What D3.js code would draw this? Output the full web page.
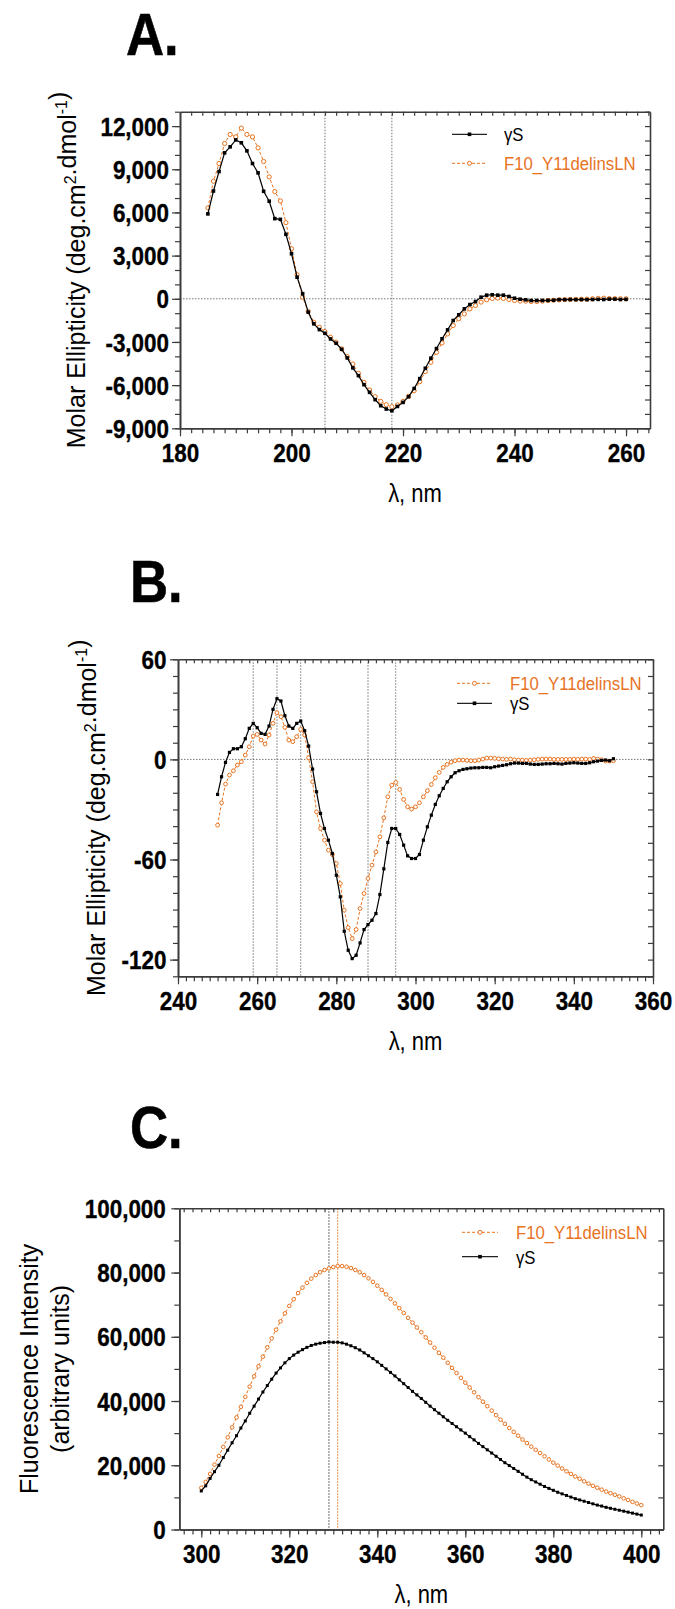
<!DOCTYPE html>
<html><head><meta charset="utf-8">
<script src="https://cdn.jsdelivr.net/npm/d3@7"></script>
<style>
body{margin:0;background:#fff}
svg{display:block}
text{font-family:"Liberation Sans",Arial,Helvetica,sans-serif}
</style>
</head><body>
<script>
// ---------------- DATA ----------------
// Panel A: far-UV CD
const wlA = [185,186,187,188,189,190,191,192,193,194,195,196,197,198,199,200,201,202,203,204,205,206,207,208,209,210,211,212,213,214,215,216,217,218,219,220,221,222,223,224,225,226,227,228,229,230,231,232,233,234,235,236,237,238,239,240,241,242,243,244,245,246,247,248,249,250,251,252,253,254,255,256,257,258,259,260];
const gammaS_A = [5900,7490,8840,10140,10560,11040,10840,10280,9400,8750,7470,6780,5570,5520,4480,3130,1500,350,-930,-1740,-2140,-2400,-2790,-3090,-3510,-4110,-4800,-5340,-5970,-6500,-7010,-7430,-7660,-7780,-7480,-7200,-6800,-6230,-5550,-4830,-4130,-3460,-2780,-2160,-1510,-1110,-700,-400,-190,110,250,280,250,250,160,40,-30,-70,-120,-120,-120,-110,-100,-60,-60,-50,-60,-50,-60,-50,-40,-50,-20,-20,-50,-40];
const mutant_A = [6310,8170,9400,10790,11420,11250,11860,11420,11250,10490,9540,8470,7450,6800,5290,3480,1670,110,-880,-1630,-1980,-2280,-2670,-3020,-3480,-4020,-4530,-5180,-5810,-6340,-6800,-7130,-7360,-7500,-7380,-7130,-6780,-6390,-5760,-5060,-4410,-3720,-3070,-2440,-1860,-1390,-1050,-700,-470,-230,-70,20,50,20,-50,-120,-160,-160,-190,-190,-160,-120,-100,-80,-60,-50,-40,-30,-20,0,30,40,20,10,0,0];
const xTicksA = [180,200,220,240,260];
const yTicksA = [-9000,-6000,-3000,0,3000,6000,9000,12000];
const refLinesA = [206,218];

// Panel B: near-UV CD
const wlB = [250,251,252,253,254,255,256,257,258,259,260,261,262,263,264,265,266,267,268,269,270,271,272,273,274,275,276,277,278,279,280,281,282,283,284,285,286,287,288,289,290,291,292,293,294,295,296,297,298,299,300,301,302,303,304,305,306,307,308,309,310,311,312,313,314,315,316,317,318,319,320,321,322,323,324,325,326,327,328,329,330,331,332,333,334,335,336,337,338,339,340,341,342,343,344,345,346,347,348,349,350];
const gammaS_B = [-21.0,-10.4,-1.8,4.2,6.4,6.4,7.6,12.4,18.6,21.6,19.0,15.6,15.0,20.0,30.0,36.4,35.0,26.2,20.0,18.6,21.6,23.0,17.2,8.0,-5.8,-19.4,-32.4,-41.4,-48.4,-56.4,-69.4,-82.4,-103.0,-114.4,-119.4,-117.4,-110.0,-102.0,-99.0,-96.4,-92.4,-81.0,-65.6,-49.8,-41.4,-41.4,-45.0,-51.4,-57.8,-59.4,-59.4,-57.0,-48.4,-40.4,-33.4,-27.0,-21.8,-17.4,-13.4,-10.4,-8.0,-6.8,-6.0,-5.6,-5.2,-5.0,-5.0,-4.8,-4.8,-5.0,-4.4,-4.0,-3.6,-3.2,-2.6,-2.2,-2.2,-2.4,-2.4,-2.8,-3.0,-3.0,-2.8,-2.6,-2.6,-2.4,-2.6,-2.8,-2.4,-2.2,-2.0,-2.2,-2.4,-2.4,-2.0,-1.4,-1.0,-0.6,-0.4,-0.8,0.4];
const mutant_B = [-39.4,-26.0,-14.8,-9.4,-6.8,-3.4,-1.4,2.6,7.6,14.0,15.0,11.6,9.2,14.6,21.6,28.0,25.6,19.2,11.6,10.6,13.6,18.0,14.6,1.0,-13.4,-31.4,-41.4,-48.4,-54.4,-57.0,-62.4,-74.4,-90.4,-100.8,-107.4,-102.0,-89.4,-80.4,-71.4,-63.4,-55.4,-46.4,-35.0,-22.4,-15.4,-13.8,-18.0,-24.0,-28.4,-29.8,-28.4,-26.0,-22.4,-18.8,-15.0,-11.0,-7.8,-4.8,-3.0,-1.6,-0.8,-0.4,-0.4,-0.6,-0.8,-0.8,-0.4,0.2,0.8,0.8,0.6,0.4,0.2,0.0,0.2,-0.2,-0.4,-0.4,-0.6,-0.4,-0.2,0.0,0.2,0.2,0.2,0.0,0.0,0.0,0.0,0.0,0.2,0.0,0.2,0.2,0.0,0.6,0.2,-0.2,-1.0,-1.0,-0.8];
const xTicksB = [240,260,280,300,320,340,360];
const yTicksB = [-120,-60,0,60];
const refLinesB = [259,265,271,288,295];

// Panel C: fluorescence emission
const wlC = [300,301,302,303,304,305,306,307,308,309,310,311,312,313,314,315,316,317,318,319,320,321,322,323,324,325,326,327,328,329,330,331,332,333,334,335,336,337,338,339,340,341,342,343,344,345,346,347,348,349,350,351,352,353,354,355,356,357,358,359,360,361,362,363,364,365,366,367,368,369,370,371,372,373,374,375,376,377,378,379,380,381,382,383,384,385,386,387,388,389,390,391,392,393,394,395,396,397,398,399,400];
const gammaS_C = [12000,13600,15900,18000,20000,22400,24700,27000,29200,31600,33800,36200,38400,40600,42800,44800,46800,48700,50300,51900,53200,54300,55200,56000,56700,57300,57700,58000,58200,58400,58300,58300,58100,57700,57200,56600,55900,55000,54100,53200,52200,51100,50000,48900,47800,46600,45400,44200,43000,41900,40800,39600,38400,37300,36200,35100,34000,33000,32000,31000,30000,28900,27900,26800,25800,24800,23800,22800,21800,20800,19900,19000,18100,17200,16300,15500,14800,14100,13400,12800,12200,11600,11100,10600,10100,9600,9200,8800,8400,8000,7600,7300,6900,6600,6300,6000,5700,5400,5100,4800,4500];
const mutant_C = [13000,14800,17300,20200,22900,25700,28700,31800,34900,38200,41300,44500,47700,50800,53800,56700,59500,62200,64800,67300,69600,71700,73600,75300,76800,78100,79200,80100,80800,81300,81700,82000,82000,81800,81400,80800,80100,79200,78200,77100,75900,74600,73200,71800,70400,68900,67400,65900,64400,62900,61400,59800,58200,56600,55000,53500,51900,50300,48700,47200,45700,44200,42700,41200,39800,38400,37000,35600,34200,32900,31600,30400,29200,28000,26900,25800,24800,23800,22800,21800,20800,19900,19000,18100,17300,16500,15800,15000,14300,13600,13000,12400,11800,11300,10800,10300,9700,9200,8600,8100,7600];
const xTicksC = [300,320,340,360,380,400];
const yTicksC = [0,20000,40000,60000,80000,100000];
const refLinesC = [329,331];

const seriesNames = ["\u03b3S","F10_Y11delinsLN"];

// ---------------- DRAWING ----------------
const SQ = 0.88;                 // narrow lettering of the original
const ORANGE = "#E8731F", AXIS = "#3c3c3c", REF = "#666";
const FONT_TICK = 25.5, FONT_TITLE = 25, FONT_LEG = 19;

const svg = d3.select("body").append("svg").attr("width",675).attr("height",1609);

function sqText(g, x, y, str, size, weight, anchor, color){
  return g.append("text")
    .attr("transform",`translate(${x},${y}) scale(${SQ},1)`)
    .attr("font-size",size).attr("font-weight",weight)
    .attr("text-anchor",anchor).attr("fill",color).text(str);
}

function rangeStep(a,b,s){const r=[];for(let v=a;v<=b+1e-9;v+=s)r.push(+v.toFixed(6));return r;}

function panel(p){
  const g = svg.append("g");
  const x = d3.scaleLinear().domain(p.xDomain).range(p.xRange);
  const y = d3.scaleLinear().domain(p.yDomain).range(p.yRange);
  const [xl,xr] = p.xRange, [yb,yt] = p.yRange;
  const fmt = v => d3.format(",")(v).replace("\u2212","-");

  // reference lines
  p.refs.forEach(r=>{
    g.append("line").attr("x1",x(r.at)).attr("x2",x(r.at)).attr("y1",yt).attr("y2",yb)
      .attr("stroke",r.color).attr("stroke-width",r.w||0.9).attr("stroke-dasharray","1.5,1.5");
  });
  if(p.zero){
    g.append("line").attr("x1",xl).attr("x2",xr).attr("y1",y(0)).attr("y2",y(0))
      .attr("stroke",REF).attr("stroke-width",0.9).attr("stroke-dasharray","1.5,1.5");
  }

  const xMinor = rangeStep(p.xDomain[0]+ (p.xMinorStart||0), p.xDomain[1], p.xMinorStep);
  const yMinor = rangeStep(p.yDomain[0], p.yDomain[1], p.yMinorStep);

  const styleAxis = a => {
    a.attr("font-size",null).attr("font-family",null);
    a.selectAll("path").attr("stroke",AXIS).attr("stroke-width",1.6);
    a.selectAll("line").attr("stroke",AXIS).attr("stroke-width",1.2);
  };
  const styleLabels = sel => sel.attr("font-size",FONT_TICK).attr("font-weight","bold")
    .attr("fill","#000").attr("stroke","#000").attr("stroke-width",0.35);

  // top (inward ticks)
  styleAxis(g.append("g").attr("transform",`translate(0,${yt})`)
    .call(d3.axisTop(x).tickValues(xMinor.filter(v=>v>p.xDomain[0])).tickSize(-4).tickSizeOuter(0).tickFormat("")));
  // right (inward ticks)
  styleAxis(g.append("g").attr("transform",`translate(${xr},0)`)
    .call(d3.axisRight(y).tickValues(yMinor).tickSize(-5).tickSizeOuter(0).tickFormat("")));
  // bottom minor + major
  styleAxis(g.append("g").attr("transform",`translate(0,${yb})`)
    .call(d3.axisBottom(x).tickValues(xMinor).tickSize(5).tickSizeOuter(0).tickFormat("")));
  const bx = g.append("g").attr("transform",`translate(0,${yb})`)
    .call(d3.axisBottom(x).tickValues(p.xTicks).tickSize(8).tickSizeOuter(0).tickFormat(fmt));
  styleAxis(bx);
  styleLabels(bx.selectAll("text").attr("y",33.5).attr("dy",null).attr("transform",`scale(${SQ},1)`));
  // left minor + major
  styleAxis(g.append("g").attr("transform",`translate(${xl},0)`)
    .call(d3.axisLeft(y).tickValues(yMinor).tickSize(5).tickSizeOuter(0).tickFormat("")));
  const ly = g.append("g").attr("transform",`translate(${xl},0)`)
    .call(d3.axisLeft(y).tickValues(p.yTicks).tickSize(8).tickSizeOuter(0).tickFormat(fmt));
  styleAxis(ly);
  styleLabels(ly.selectAll("text").attr("x",-p.yLabGap/SQ).attr("dy","0.36em").attr("transform",`scale(${SQ},1)`));

  // series
  const drawSeries = (vals, kind) => {
    const pts = p.wl.map((w,i)=>[w, vals[i]]);
    const line = d3.line().x(d=>x(d[0])).y(d=>y(d[1]));
    if(kind==="o"){
      g.append("path").attr("d",line(pts)).attr("fill","none").attr("stroke",ORANGE)
        .attr("stroke-width",1).attr("stroke-dasharray","3,2");
      g.append("g").selectAll("circle").data(pts).join("circle")
        .attr("cx",d=>x(d[0])).attr("cy",d=>y(d[1])).attr("r",p.cr)
        .attr("fill","#fff").attr("stroke",ORANGE).attr("stroke-width",1);
    } else {
      g.append("path").attr("d",line(pts)).attr("fill","none").attr("stroke","#000").attr("stroke-width",1.2);
      g.append("g").selectAll("rect").data(pts).join("rect")
        .attr("x",d=>x(d[0])-p.sq/2).attr("y",d=>y(d[1])-p.sq/2).attr("width",p.sq).attr("height",p.sq)
        .attr("fill","#000");
    }
  };
  drawSeries(p.orange,"o");
  drawSeries(p.black,"b");

  // legend
  p.legend.forEach(e=>{
    const mx = (p.legX1+p.legX2)/2;
    if(e.kind==="o"){
      g.append("line").attr("x1",p.legX1).attr("x2",p.legX2).attr("y1",e.y).attr("y2",e.y)
        .attr("stroke",ORANGE).attr("stroke-width",1).attr("stroke-dasharray","3,2");
      g.append("circle").attr("cx",mx).attr("cy",e.y).attr("r",2).attr("fill","#fff").attr("stroke",ORANGE);
      sqText(g, p.legTX, e.y+6.8, seriesNames[1], FONT_LEG, "normal", "start", ORANGE);
    } else {
      g.append("line").attr("x1",p.legX1).attr("x2",p.legX2).attr("y1",e.y).attr("y2",e.y)
        .attr("stroke","#222").attr("stroke-width",1.3);
      g.append("rect").attr("x",mx-1.8).attr("y",e.y-1.8).attr("width",3.6).attr("height",3.6).attr("fill","#000");
      sqText(g, p.legTX, e.y+6.8, seriesNames[0], FONT_LEG, "normal", "start", "#000");
    }
  });

  // panel letter
  sqText(g, p.letterX, p.letterY, p.letter, 60, "bold", "start", "#000")
    .attr("stroke","#000").attr("stroke-width",0.6);
  // x title
  sqText(g, (xl+xr)/2, yb+73.4, "\u03bb, nm", FONT_TITLE, "normal", "middle", "#000");
  // y title(s), rotated, not narrowed
  p.yTitle.forEach(t=>{
    const tx = g.append("text")
      .attr("transform",`translate(${t.x},${(yb+yt)/2}) rotate(-90)`)
      .attr("text-anchor","middle").attr("dy","0.33em")
      .attr("font-size",FONT_TITLE).attr("fill","#000");
    t.parts.forEach(pt=>{
      if(pt.sup){
        tx.append("tspan").attr("dy",-9).attr("font-size",16).text(pt.t);
        tx.append("tspan").attr("dy",9).text("");
      } else tx.append("tspan").text(pt.t);
    });
  });
}

const ellipticityTitle = [{t:"Molar Ellipticity (deg.cm"},{t:"2",sup:true},{t:".dmol"},{t:"-1",sup:true},{t:")"}];

panel({
  letter:"A.", letterX:126, letterY:55,
  wl:wlA, black:gammaS_A, orange:mutant_A,
  xDomain:[180,264.3], xRange:[180,650], yDomain:[-9000,13000], yRange:[428.3,111.7],
  xTicks:xTicksA, yTicks:yTicksA, xMinorStep:2, yMinorStep:1000, yLabGap:11,
  refs:refLinesA.map(v=>({at:v,color:REF})), zero:true, cr:2.1, sq:3.6,
  legX1:452, legX2:487, legTX:504,
  legend:[{kind:"b",y:134.3},{kind:"o",y:163.3}],
  yTitle:[{x:77, parts:ellipticityTitle}]
});

panel({
  letter:"B.", letterX:130, letterY:601.5,
  wl:wlB, black:gammaS_B, orange:mutant_B,
  xDomain:[240,360], xRange:[178,653], yDomain:[-130,60], yRange:[976.3,659.3],
  xTicks:xTicksB, yTicks:yTicksB, xMinorStep:2, yMinorStep:10, yLabGap:11.5,
  refs:refLinesB.map(v=>({at:v,color:REF})), zero:true, cr:1.9, sq:3.2,
  legX1:457, legX2:492, legTX:510,
  legend:[{kind:"o",y:683.3},{kind:"b",y:703.3}],
  yTitle:[{x:96.3, parts:ellipticityTitle}]
});

panel({
  letter:"C.", letterX:130, letterY:1148,
  wl:wlC, black:gammaS_C, orange:mutant_C,
  xDomain:[295,405], xRange:[179.3,663.3], yDomain:[0,100000], yRange:[1529.5,1208.3],
  xTicks:xTicksC, yTicks:yTicksC, xMinorStep:2, xMinorStart:1, yMinorStep:10000, yLabGap:13.5,
  refs:[{at:refLinesC[0],color:"#888",w:1.6},{at:refLinesC[1],color:ORANGE,w:1}], zero:false, cr:1.8, sq:3.0,
  legX1:462, legX2:498, legTX:516,
  legend:[{kind:"o",y:1232.3},{kind:"b",y:1256.7}],
  yTitle:[{x:30.2, parts:[{t:"Fluorescence Intensity"}]},{x:60.3, parts:[{t:"(arbitrary units)"}]}]
});
</script>
</body></html>
